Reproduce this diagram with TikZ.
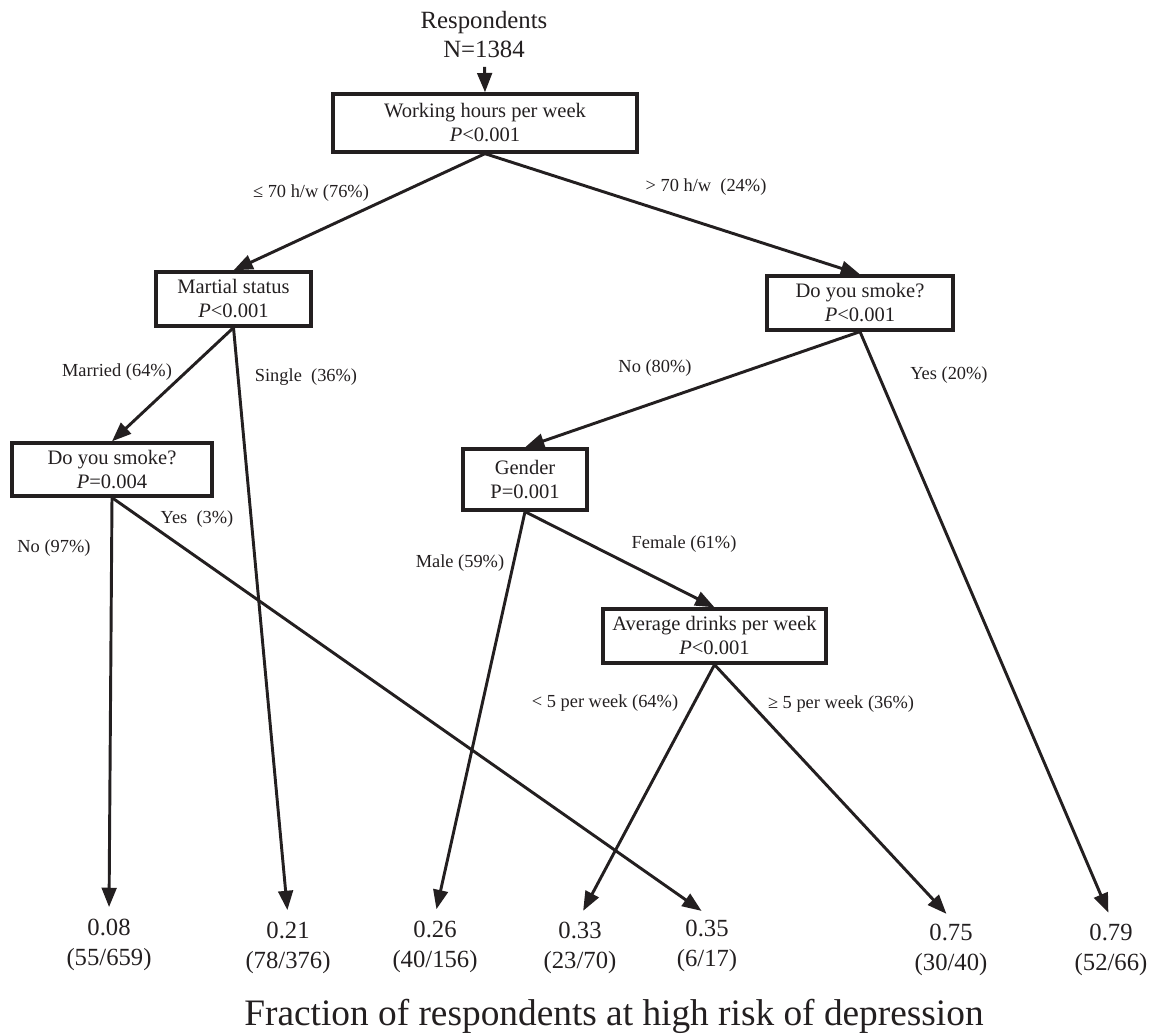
\documentclass[tikz,border=0pt]{standalone}
\usepackage{fontspec}
\setmainfont{Liberation Serif}
\usetikzlibrary{arrows.meta}
\definecolor{ink}{RGB}{35,31,32}
\begin{document}
\begin{tikzpicture}[x=0.75pt,y=-0.75pt,
  box/.style={draw=ink, line width=2.5pt, inner sep=0pt, align=center, font=\fontsize{15.4}{18}\selectfont, text=ink},
  edge/.style={draw=ink, line width=2.2pt, -{Triangle[length=14.5pt,width=11pt]}},
  leafedge/.style={edge, shorten >=5pt},
  lab/.style={font=\fontsize{13.8}{16}\selectfont, text=ink, inner sep=0pt},
  leaf/.style={font=\fontsize{18.5}{22.5}\selectfont, text=ink, inner sep=0pt, anchor=base}
]
\useasboundingbox (0,0) rectangle (1153,1034);

% root
\node[leaf, font=\fontsize{18.6}{21.75}\selectfont] (root) at (484,29)
  {\begin{tabular}[t]{@{}c@{}}Respondents\\N=1384\end{tabular}};

% decision boxes
\node[box, minimum width=228pt, minimum height=43.5pt] (b1) at (485,123)
  {Working hours per week\\\textit{P}<0.001};
\node[box, minimum width=116.25pt, minimum height=40.5pt] (b2) at (233.5,299)
  {Martial status\\\textit{P}<0.001};
\node[box, minimum width=139.5pt, minimum height=40.5pt] (b3) at (860,303)
  {Do you smoke?\\\textit{P}<0.001};
\node[box, minimum width=150pt, minimum height=39.75pt] (b4) at (112,469.5)
  {Do you smoke?\\\textit{P}=0.004};
\node[box, minimum width=93pt, minimum height=45.75pt] (b5) at (525,479.5)
  {Gender\\P=0.001};
\node[box, minimum width=167.25pt, minimum height=40.5pt] (b6) at (714.5,636)
  {Average drinks per week\\\textit{P}<0.001};

% leaves
\node[leaf] (l1) at (109,935) {\begin{tabular}[t]{@{}c@{}}0.08\\(55/659)\end{tabular}};
\node[leaf] (l2) at (288,938) {\begin{tabular}[t]{@{}c@{}}0.21\\(78/376)\end{tabular}};
\node[leaf] (l3) at (435,937) {\begin{tabular}[t]{@{}c@{}}0.26\\(40/156)\end{tabular}};
\node[leaf] (l4) at (580,938) {\begin{tabular}[t]{@{}c@{}}0.33\\(23/70)\end{tabular}};
\node[leaf] (l5) at (707,936) {\begin{tabular}[t]{@{}c@{}}0.35\\(6/17)\end{tabular}};
\node[leaf] (l6) at (951,940) {\begin{tabular}[t]{@{}c@{}}0.75\\(30/40)\end{tabular}};
\node[leaf] (l7) at (1111,940) {\begin{tabular}[t]{@{}c@{}}0.79\\(52/66)\end{tabular}};

% title
\node[font=\fontsize{28}{32}\selectfont, text=ink, inner sep=0pt, anchor=base] (title) at (614,1025)
  {Fraction of respondents at high risk of depression};

% connectors
\draw[edge] (root) -- (b1.north);
\draw[edge] (b1.south) -- (b2.north);
\draw[edge] (b1.south) -- (b3.north);
\draw[edge] (b2.south) -- (b4.north);
\draw[leafedge] (b2.south) -- (l2.north);
\draw[edge] (b3.south) -- (b5.north);
\draw[leafedge] (b3.south) -- (l7.north);
\draw[leafedge] (b4.south) -- (l1.north);
\draw[leafedge] (b4.south) -- (l5.north);
\draw[leafedge] (b5.south) -- (l3.north);
\draw[edge] (b5.south) -- (b6.north);
\draw[leafedge] (b6.south) -- (l4.north);
\draw[leafedge] (b6.south) -- (l6.north);

% edge labels
\node[lab] (e1) at (311,193) {≤ 70 h/w (76\%)};
\node[lab] (e2) at (706,187) {> 70 h/w\ \ (24\%)};
\node[lab] (e3) at (117,372) {Married (64\%)};
\node[lab] (e4) at (306,377) {Single\ \ (36\%)};
\node[lab] (e5) at (655,368) {No (80\%)};
\node[lab, anchor=west] (e6) at (910,375) {Yes (20\%)};
\node[lab] (e7) at (197,519) {Yes\ \ (3\%)};
\node[lab] (e8) at (54,548) {No (97\%)};
\node[lab] (e9) at (460,563) {Male (59\%)};
\node[lab] (e10) at (684,544) {Female (61\%)};
\node[lab] (e11) at (605,703) {< 5 per week (64\%)};
\node[lab] (e12) at (841,704) {≥ 5 per week (36\%)};
\end{tikzpicture}
\end{document}
